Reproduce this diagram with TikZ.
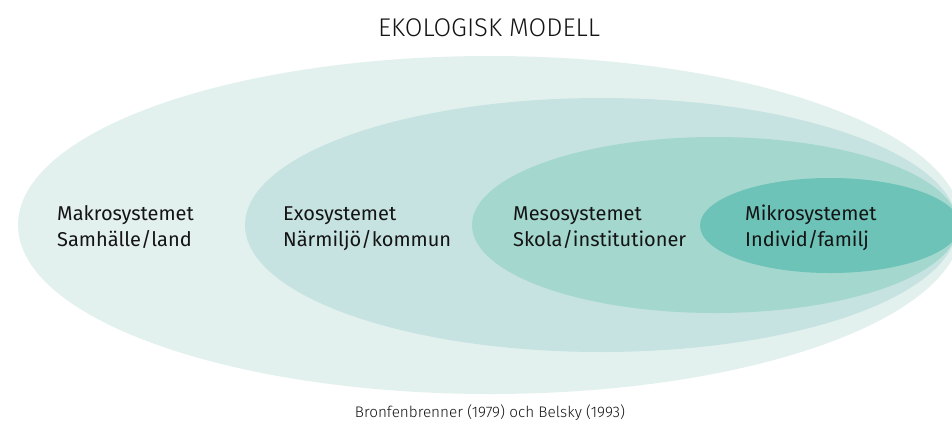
\documentclass[tikz,border=0pt]{standalone}
\usepackage{fontspec}
\setmainfont{Fira Sans}
\newfontfamily\lightfont{Fira Sans Light}
\definecolor{cmakro}{RGB}{227,241,238}
\definecolor{cexo}{RGB}{198,227,226}
\definecolor{cmeso}{RGB}{164,215,206}
\definecolor{cmikro}{RGB}{109,195,184}
\definecolor{ctext}{RGB}{20,20,20}
\begin{document}
\begin{tikzpicture}[x=1pt,y=-1pt,
  lbl/.style={anchor=base west,inner sep=0pt,font=\fontsize{20}{24}\selectfont,text=ctext}]
\useasboundingbox (0,0) rectangle (952,424);
\begin{scope}
\clip (0,0) rectangle (952,424);
\fill[cmakro] (490,225) ellipse [x radius=472, y radius=169];
\fill[cexo] (601,225) ellipse [x radius=356, y radius=127];
\fill[cmeso] (715,225) ellipse [x radius=243, y radius=88];
\fill[cmikro] (830,225.5) ellipse [x radius=130, y radius=47.5];
\end{scope}
\node[anchor=center,inner sep=0pt,font=\lightfont\fontsize{25.6}{30}\selectfont,text=ctext] (title) at (489,28) {EKOLOGISK MODELL};
\node[lbl] (makroA) at (57,220) {Makrosystemet};
\node[lbl] (makroB) at (57,246) {Samhälle/land};
\node[lbl] (exoA) at (283,220) {Exosystemet};
\node[lbl] (exoB) at (283,246) {Närmiljö/kommun};
\node[lbl] (mesoA) at (513,220) {Mesosystemet};
\node[lbl] (mesoB) at (513,246) {Skola/institutioner};
\node[lbl] (mikroA) at (745,220) {Mikrosystemet};
\node[lbl] (mikroB) at (745,246) {Individ/familj};
\node[anchor=center,inner sep=0pt,font=\lightfont\fontsize{15.3}{18}\selectfont,text=ctext] (cite) at (490,413) {Bronfenbrenner (1979) och Belsky (1993)};
\end{tikzpicture}
\end{document}
